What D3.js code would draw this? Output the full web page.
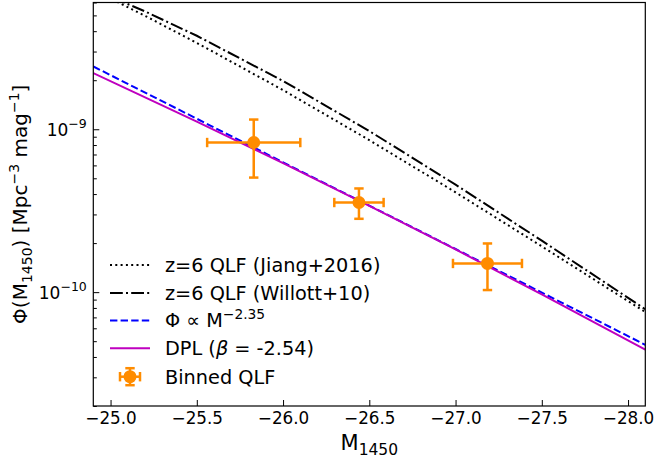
<!DOCTYPE html>
<html><head><meta charset="utf-8">
<script src="https://cdn.jsdelivr.net/npm/d3@7"></script>
<style>body{margin:0;background:#fff} svg text{font-family:"DejaVu Sans",sans-serif;fill:#000}</style>
</head><body><svg id="c" width="655" height="458"></svg>
<script>
// ---- data ----
const qlfMag      = [-24.9, -25.2, -25.5, -26.0, -26.5, -27.0, -27.5, -28.1];
const jiangPhi    = [7.16e-9, 4.97e-9, 3.39e-9, 1.74e-9, 8.58e-10, 4.10e-10, 1.91e-10, 7.55e-11];
const willottPhi  = [7.21e-9, 5.29e-9, 3.75e-9, 1.98e-9, 9.75e-10, 4.57e-10, 2.07e-10, 7.85e-11];
const plMag       = [-24.9, -26.0, -27.0, -28.1];
const plPhi       = [2.43e-9, 6.27e-10, 1.84e-10, 4.75e-11];
const dplMag      = [-24.9, -25.5, -26.0, -26.5, -27.0, -27.5, -28.1];
const dplPhi      = [2.21e-9, 1.115e-9, 6.19e-10, 3.39e-10, 1.83e-10, 9.68e-11, 4.43e-11];
const binMag      = [-25.83, -26.44, -27.185];
const binMagErr   = [0.27, 0.143, 0.20];
const binPhi      = [8.29e-10, 3.55e-10, 1.50e-10];
const binPhiLo    = [5.05e-10, 2.82e-10, 1.03e-10];
const binPhiHi    = [1.147e-9, 4.33e-10, 1.99e-10];
const xTicks      = [-25.0, -25.5, -26.0, -26.5, -27.0, -27.5, -28.0];
const yMajor      = [1e-10, 1e-9];
const yMajorExp   = ["−10", "−9"];
const legendLabels = ["z=6 QLF (Jiang+2016)", "z=6 QLF (Willott+10)", "Φ ∝ M", "DPL (", "Binned QLF"];

// ---- layout ----
const L = 93.3, R = 645.3, T = 2.5, B = 406;
const svg = d3.select("#c");
const x = d3.scaleLinear().domain([-24.9, -28.1]).range([L, R]);
const y = d3.scaleLog().domain([2e-11, 6e-9]).range([B, T]);
const orange = "#ff8c00";

svg.append("defs").append("clipPath").attr("id", "clip")
  .append("rect").attr("x", L).attr("y", T).attr("width", R - L).attr("height", B - T);

const plot = svg.append("g").attr("clip-path", "url(#clip)");
const line = d3.line().x(d => x(d[0])).y(d => y(d[1]));

const series = [
  {m: qlfMag, p: jiangPhi, color: "#000", dash: "2,3.3"},
  {m: qlfMag, p: willottPhi, color: "#000", dash: "12.8,3.2,2,3.2"},
  {m: plMag, p: plPhi, color: "#0000ff", dash: "7.4,3.2"},
  {m: dplMag, p: dplPhi, color: "#bf00bf", dash: null}
];
series.forEach(s => {
  plot.append("path").datum(s.m.map((v, i) => [v, s.p[i]]))
    .attr("d", line).attr("fill", "none").attr("stroke", s.color)
    .attr("stroke-width", 2).attr("stroke-dasharray", s.dash);
});

// error bars
const eb = svg.append("g").attr("stroke", orange).attr("stroke-width", 2.5);
const cap = 4.7;
binMag.forEach((m, i) => {
  const cx = x(m), cy = y(binPhi[i]);
  const x0 = x(m + binMagErr[i]), x1 = x(m - binMagErr[i]);
  const y0 = y(binPhiHi[i]), y1 = y(binPhiLo[i]);
  eb.append("line").attr("x1", x0).attr("x2", x1).attr("y1", cy).attr("y2", cy);
  eb.append("line").attr("x1", cx).attr("x2", cx).attr("y1", y0).attr("y2", y1);
  eb.append("line").attr("x1", x0).attr("x2", x0).attr("y1", cy - cap).attr("y2", cy + cap);
  eb.append("line").attr("x1", x1).attr("x2", x1).attr("y1", cy - cap).attr("y2", cy + cap);
  eb.append("line").attr("x1", cx - cap).attr("x2", cx + cap).attr("y1", y0).attr("y2", y0);
  eb.append("line").attr("x1", cx - cap).attr("x2", cx + cap).attr("y1", y1).attr("y2", y1);
  svg.append("circle").attr("cx", cx).attr("cy", cy).attr("r", 6.5).attr("fill", orange);
});

// axes
const xAxis = d3.axisBottom(x).tickValues(xTicks).tickSize(-6).tickPadding(6.5)
  .tickFormat(d => d3.format(".1f")(d).replace("-", "−"));
const gx = svg.append("g").attr("transform", `translate(0,${B})`).call(xAxis);
gx.select(".domain").remove();
gx.selectAll("text").attr("font-size", 16.8).attr("font-family", "DejaVu Sans");

const minor = y.ticks().filter(v => yMajor.every(mj => Math.abs(v - mj) / mj > 1e-6));
const gyMinor = svg.append("g").attr("transform", `translate(${L},0)`)
  .call(d3.axisLeft(y).tickValues(minor).tickSize(-3.5).tickFormat(""));
gyMinor.select(".domain").remove();

const gy = svg.append("g").attr("transform", `translate(${L},0)`)
  .call(d3.axisLeft(y).tickValues(yMajor).tickSize(-6).tickPadding(6.5).tickFormat(""));
gy.select(".domain").remove();
gy.selectAll(".tick").each(function(d, i) {
  const t = d3.select(this).select("text").attr("font-family", "DejaVu Sans")
    .attr("font-size", 17).attr("dy", "0.36em");
  t.append("tspan").text("10");
  t.append("tspan").attr("font-size", 12.5).attr("dy", -8).text(yMajorExp[i]);
});

// frame
svg.append("rect").attr("x", L).attr("y", T).attr("width", R - L).attr("height", B - T)
  .attr("fill", "none").attr("stroke", "#000").attr("stroke-width", 1.2);

// axis labels
const xl = svg.append("text").attr("x", (L + R) / 2).attr("y", 450)
  .attr("text-anchor", "middle").attr("font-size", 21);
xl.append("tspan").text("M");
xl.append("tspan").attr("font-size", 15.5).attr("dy", 4.5).text("1450");

const yl = svg.append("text").attr("transform", `translate(27,${(T + B) / 2}) rotate(-90)`)
  .attr("text-anchor", "middle").attr("font-size", 20);
yl.append("tspan").text("Φ(M");
yl.append("tspan").attr("font-size", 14).attr("dy", 4.5).text("1450");
yl.append("tspan").attr("dy", -4.5).text(") [Mpc");
yl.append("tspan").attr("font-size", 14).attr("dy", -8).text("−3");
yl.append("tspan").attr("dy", 8).text(" mag");
yl.append("tspan").attr("font-size", 14).attr("dy", -8).text("−1");
yl.append("tspan").attr("dy", 8).text("]");

// legend
const rowY = [265, 293, 320.5, 348.3, 376.7];
const lg = svg.append("g");
series.forEach((s, i) => {
  lg.append("line").attr("x1", 110).attr("x2", 150).attr("y1", rowY[i]).attr("y2", rowY[i])
    .attr("stroke", s.color).attr("stroke-width", 2).attr("stroke-dasharray", s.dash);
});
const lx = 130, ly = rowY[4], lex = 10, ley = 8.5;
const lgb = lg.append("g").attr("stroke", orange).attr("stroke-width", 2.5);
lgb.append("line").attr("x1", lx - lex).attr("x2", lx + lex).attr("y1", ly).attr("y2", ly);
lgb.append("line").attr("x1", lx).attr("x2", lx).attr("y1", ly - ley).attr("y2", ly + ley);
lgb.append("line").attr("x1", lx - lex).attr("x2", lx - lex).attr("y1", ly - cap).attr("y2", ly + cap);
lgb.append("line").attr("x1", lx + lex).attr("x2", lx + lex).attr("y1", ly - cap).attr("y2", ly + cap);
lgb.append("line").attr("x1", lx - cap).attr("x2", lx + cap).attr("y1", ly - ley).attr("y2", ly - ley);
lgb.append("line").attr("x1", lx - cap).attr("x2", lx + cap).attr("y1", ly + ley).attr("y2", ly + ley);
lg.append("circle").attr("cx", lx).attr("cy", ly).attr("r", 6.5).attr("fill", orange);

const fs = 19.3;
rowY.forEach((ry, i) => {
  const t = lg.append("text").attr("x", 165).attr("y", ry + 6.9).attr("font-size", fs);
  if (i === 2) {
    t.append("tspan").text(legendLabels[i]);
    t.append("tspan").attr("font-size", 13.8).attr("dy", -8).text("−2.35");
  } else if (i === 3) {
    t.append("tspan").text(legendLabels[i]);
    t.append("tspan").attr("font-style", "italic").text("β");
    t.append("tspan").text(" = -2.54)");
  } else {
    t.text(legendLabels[i]);
  }
});
</script></body></html>
